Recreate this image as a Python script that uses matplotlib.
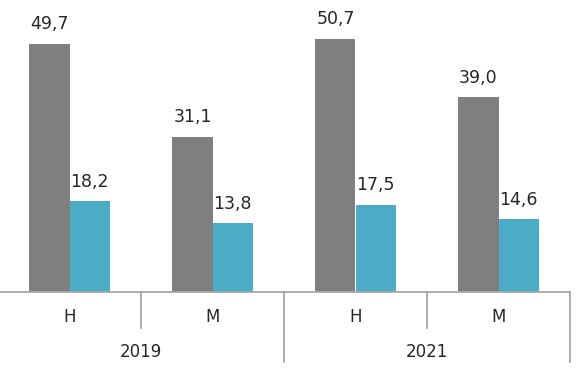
import matplotlib
matplotlib.use("Agg")
import matplotlib.pyplot as plt
import numpy as np

years = ["2019", "2021"]
groups = ["H", "M", "H", "M"]
gray_vals = [49.7, 31.1, 50.7, 39.0]
blue_vals = [18.2, 13.8, 17.5, 14.6]

plt.rcParams['font.family'] = ['DejaVu Sans']

fig = plt.figure(figsize=(5.82, 3.79), dpi=100)
ax = fig.add_axes([-2/582, 87/379, 572/582, 292/379])

x = np.arange(len(groups))
w = 0.28
gray = "#7f7f7f"
blue = "#4bacc6"
b1 = ax.bar(x - w/2, gray_vals, w, color=gray)
b2 = ax.bar(x + w/2, blue_vals, w, color=blue)

for bars, vals in ((b1, gray_vals), (b2, blue_vals)):
    for b, v in zip(bars, vals):
        ax.annotate(f"{v:.1f}".replace(".", ","), (b.get_x() + b.get_width()/2, v),
                    xytext=(0, 7.5), textcoords="offset points", ha="center", va="bottom",
                    fontsize=12.5, color="#262626")

ax.set_xlim(-0.5, 3.5)
ax.set_ylim(0, 58.4)
for s in ["top", "right", "left"]:
    ax.spines[s].set_visible(False)
ax.spines["bottom"].set_color("#a6a6a6")
ax.spines["bottom"].set_linewidth(1.3)
ax.set_yticks([])
ax.set_xticks([])

tr = ax.get_xaxis_transform()
tick_c = "#a6a6a6"
for xv in [0.5, 2.5]:
    ax.plot([xv, xv], [0, -0.123], transform=tr, color=tick_c, lw=1.3, clip_on=False)
for xv in [1.5, 3.5]:
    ax.plot([xv, xv], [0, -0.240], transform=tr, color=tick_c, lw=1.3, clip_on=False)

for xi, g in zip(x, groups):
    ax.text(xi, -0.086, g, transform=tr, ha="center", va="center", fontsize=12, color="#262626")
for i, yl in enumerate(years):
    ax.text(2*i + 0.5, -0.205, yl, transform=tr, ha="center", va="center", fontsize=12, color="#262626")

fig.savefig("out.png", dpi=100)
